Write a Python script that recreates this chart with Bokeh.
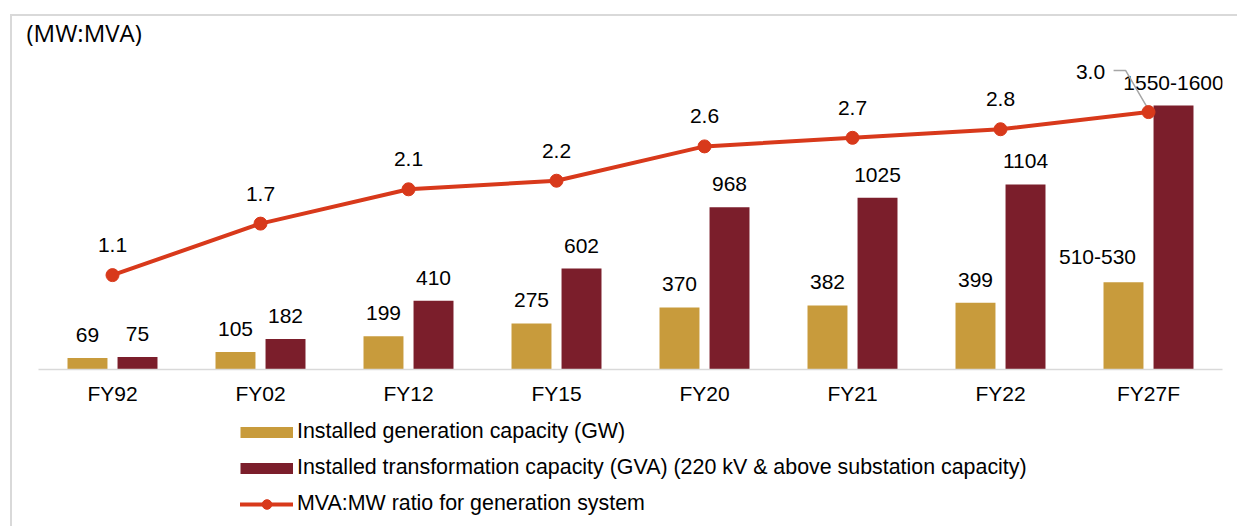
from bokeh.plotting import figure
from bokeh.layouts import column
from bokeh.models import (FactorRange, Range1d, Legend, LegendItem, Label,
                          ColumnDataSource)
from bokeh.transform import dodge
from bokeh.core.properties import value
from bokeh.embed import file_html
from bokeh.resources import INLINE

# ---------------- data ----------------
years = ["FY92", "FY02", "FY12", "FY15", "FY20", "FY21", "FY22", "FY27F"]
generation = [69, 105, 199, 275, 370, 382, 399, 520]
generation_labels = ["69", "105", "199", "275", "370", "382", "399", "510-530"]
transformation = [75, 182, 410, 602, 968, 1025, 1104, 1575]
transformation_labels = ["75", "182", "410", "602", "968", "1025", "1104", "1550-1600"]
ratio = [1.1, 1.7, 2.1, 2.2, 2.6, 2.7, 2.8, 3.0]
ratio_labels = ["1.1", "1.7", "2.1", "2.2", "2.6", "2.7", "2.8", "3.0"]
legend_labels = ["Installed generation capacity (GW)",
                 "Installed transformation capacity (GVA) (220 kV & above substation capacity)",
                 "MVA:MW ratio for generation system"]
unit_label = "(MW:MVA)"

GOLD = "#C89B3C"
MAROON = "#7B1E2B"
RED = "#D8391B"
FONT = "Liberation Sans"
NAN = float("nan")

src = ColumnDataSource(dict(years=years, generation=generation,
                            transformation=transformation,
                            transformation_labels=transformation_labels,
                            ratio=ratio))
src_gen_first = ColumnDataSource(dict(years=years[:-1], generation=generation[:-1],
                                      generation_labels=generation_labels[:-1]))
src_gen_last = ColumnDataSource(dict(years=years[-1:], generation=generation[-1:],
                                     generation_labels=generation_labels[-1:]))
src_first = ColumnDataSource(dict(years=years[:-1], ratio=ratio[:-1],
                                  ratio_labels=ratio_labels[:-1]))
src_last = ColumnDataSource(dict(years=years[-1:], ratio=ratio[-1:],
                                 ratio_labels=ratio_labels[-1:]))

# ---------------- unit-label strip ----------------
t = figure(x_range=Range1d(0, 1), y_range=Range1d(0, 1),
           width=1225, height=44, min_border=0,
           x_axis_location=None, y_axis_location=None,
           toolbar_location=None, output_backend="svg")
t.frame_align = False
t.xgrid.visible = False
t.ygrid.visible = False
t.outline_line_color = None
t.add_layout(Label(x=14, y=28, x_units="screen", y_units="screen",
                   text=unit_label, text_font="Open Sans", text_font_size="24px",
                   text_baseline="middle", text_align="left",
                   text_color="#000000"))

# ---------------- chart ----------------
p = figure(x_range=FactorRange(*years, range_padding=0),
           y_range=Range1d(0, 1843.7),
           width=1225, height=349,
           min_border_left=26, min_border_right=15,
           min_border_top=0, min_border_bottom=40,
           y_axis_location=None,
           toolbar_location=None, output_backend="svg")
p.frame_align = False
p.extra_y_ranges = {"ratio": Range1d(0, 3.601)}

p.xgrid.visible = False
p.ygrid.visible = False
p.outline_line_color = None

ax = p.xaxis[0]
ax.axis_line_color = "#D9D9D9"
ax.axis_line_width = 1.5
ax.major_tick_line_color = None
ax.major_tick_in = 0
ax.major_tick_out = 0
ax.major_label_standoff = 12
ax.major_label_text_font = FONT
ax.major_label_text_font_size = "21px"
ax.major_label_text_color = "#000000"

# bars
p.vbar(x=dodge("years", -0.169, range=p.x_range), top="generation", width=0.27,
       bottom=0, source=src, fill_color=GOLD, line_color=None)
p.vbar(x=dodge("years", 0.169, range=p.x_range), top="transformation", width=0.27,
       bottom=0, source=src, fill_color=MAROON, line_color=None)

# bar labels
lab = dict(text_align="center", text_baseline="middle", text_font=value(FONT),
           text_font_size="21px", text_color="#000000")
p.text(x=dodge("years", -0.169, range=p.x_range), y="generation",
       text="generation_labels", source=src_gen_first, y_offset=-23, **lab)
p.text(x=dodge("years", -0.169, range=p.x_range), y="generation",
       text="generation_labels", source=src_gen_last, x_offset=-26,
       y_offset=-25, **lab)
p.text(x=dodge("years", 0.169, range=p.x_range), y="transformation",
       text="transformation_labels", source=src, y_offset=-23, **lab)

# leader line for last ratio label
lx = [(years[-1], -0.236), (years[-1], -0.155), (years[-1], -0.007)]
ly = [ratio[-1] + 0.485, ratio[-1] + 0.485, ratio[-1] + 0.05]
p.line(x=lx, y=ly, y_range_name="ratio", line_color="#A6A6A6", line_width=1.5)

# ratio line
p.line(x="years", y="ratio", source=src, y_range_name="ratio",
       line_color=RED, line_width=4, line_join="round", line_cap="round")
p.scatter(x="years", y="ratio", source=src, y_range_name="ratio",
          marker="circle", size=13, fill_color=RED, line_color=RED)

p.text(x="years", y="ratio", text="ratio_labels", source=src_first,
       y_range_name="ratio", y_offset=-30, **lab)
p.text(x="years", y="ratio", text="ratio_labels", source=src_last,
       y_range_name="ratio", x_offset=-58, y_offset=-40, **lab)

# ---------------- legend strip ----------------
q = figure(x_range=Range1d(0, 1), y_range=Range1d(0, 1),
           width=1225, height=117, min_border=0,
           x_axis_location=None, y_axis_location=None,
           toolbar_location=None, output_backend="svg")
q.frame_align = False
q.xgrid.visible = False
q.ygrid.visible = False
q.outline_line_color = None

gen_sw = q.line(x=[NAN], y=[NAN], line_color=GOLD, line_width=11)
tr_sw = q.line(x=[NAN], y=[NAN], line_color=MAROON, line_width=11)
r_ln = q.line(x=[NAN], y=[NAN], line_color=RED, line_width=4, line_cap="round")
r_sc = q.scatter(x=[NAN], y=[NAN], marker="circle", size=13,
                 fill_color=RED, line_color=RED)

legend = Legend(items=[
    LegendItem(label=legend_labels[0], renderers=[gen_sw]),
    LegendItem(label=legend_labels[1], renderers=[tr_sw]),
    LegendItem(label=legend_labels[2], renderers=[r_ln, r_sc]),
], location=(228, 10), orientation="vertical", glyph_width=53,
    glyph_height=24, label_height=24, spacing=11, label_standoff=4,
    padding=0, margin=0, border_line_color=None, background_fill_alpha=0,
    label_text_font=FONT, label_text_font_size="21.4px",
    label_text_color="#000000")
q.add_layout(legend)

layout = column(t, p, q, spacing=0, margin=(14, 0, 0, 10),
                styles={"border-top": "2px solid #D9D9D9",
                        "border-left": "2px solid #D9D9D9"})

open("out.html", "w").write(file_html(layout, INLINE))
